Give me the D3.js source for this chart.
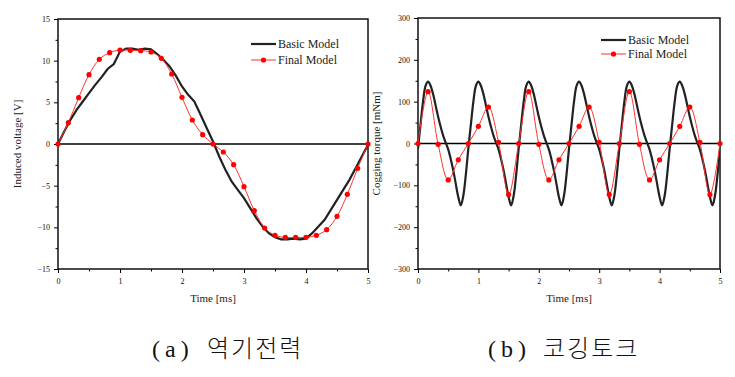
<!DOCTYPE html>
<html>
<head>
<meta charset="utf-8">
<script src="https://cdn.jsdelivr.net/npm/d3@7"></script>
<style>
  body { margin: 0; background: #fff; }
</style>
</head>
<body>
<div id="chart"></div>
<script>
// (a) induced voltage, basic model sampled every 0.1 ms
var voltBasicT = d3.range(0, 51).map(function(i) { return i / 10; });
var voltBasic = [0, 1.5, 2.9, 4.1, 5.1, 6.1, 7.1, 8.0, 9.0, 9.6, 11.1,
    11.44, 11.44, 11.3, 11.44, 11.36, 10.8, 10.1, 9.3, 8.2, 6.9,
    5.9, 5.1, 3.5, 1.9, 0.3, -1.5, -3.1, -4.5, -5.5, -6.5,
    -7.7, -8.9, -9.9, -10.7, -11.2, -11.44, -11.44, -11.36, -11.44, -11.36,
    -10.7, -9.9, -9.1, -7.9, -6.7, -5.5, -4.3, -2.9, -1.5, -0.1];
// final model markers every 1/6 ms
var markT = d3.range(0, 31).map(function(i) { return i / 6; });
var voltFinal = [0, 2.56, 5.56, 8.32, 10.16, 10.96, 11.28, 11.24, 11.2, 11.04, 10.28,
    8.4, 5.6, 2.88, 1.12, 0, -0.96, -2.48, -5.12, -8.0, -10.08,
    -10.96, -11.2, -11.2, -11.2, -10.96, -10.28, -8.68, -6.04, -2.92, 0];

// (b) cogging torque, basic model sampled every 1/24 ms
var torqueBasicT = d3.range(0, 121).map(function(i) { return i / 24; });
var torqueBasic = [-12, 45, 100, 138,
    148, 138, 118, 91, 64, 40, 19, 2, -14, -37, -64, -96, -128, -148, -125, -75, -12, 45, 100, 138,
    148, 138, 118, 91, 64, 40, 19, 2, -14, -37, -64, -96, -128, -148, -125, -75, -12, 45, 100, 138,
    148, 138, 118, 91, 64, 40, 19, 2, -14, -37, -64, -96, -128, -148, -125, -75, -12, 45, 100, 138,
    148, 138, 118, 91, 64, 40, 19, 2, -14, -37, -64, -96, -128, -148, -125, -75, -12, 45, 100, 138,
    148, 138, 118, 91, 64, 40, 19, 2, -14, -37, -64, -96, -128, -148, -125, -75, -12, 45, 100, 138,
    148, 138, 118, 91, 64, 40, 19, 2, -14, -37, -64, -96, -128, -148, -125, -75, -12];
var torqueFinal = [0, 124, -2, -87, -39, 0, 41, 87, 3, -122,
    0, 124, -2, -87, -39, 0, 41, 87, 3, -122,
    0, 124, -2, -87, -39, 0, 41, 87, 3, -122, 0];

var xTicks = [0, 1, 2, 3, 4, 5];
var voltTicks = [-15, -10, -5, 0, 5, 10, 15];
var torqueTicks = [-300, -200, -100, 0, 100, 200, 300];
var legendNames = ['Basic Model', 'Final Model'];

var serif = "'Liberation Serif', 'Times New Roman', serif";

var svg = d3.select('#chart')
    .append('svg')
    .attr('width', 735)
    .attr('height', 377);

function panel(p) {
    var x = d3.scaleLinear().domain([0, 5]).range([p.left, p.right]);
    var y = d3.scaleLinear().domain(p.yDomain).range([p.bottom, p.top]);
    var g = svg.append('g');

    // minor ticks
    g.append('g')
        .attr('transform', 'translate(0,' + p.bottom + ')')
        .call(d3.axisBottom(x).tickValues(d3.range(0.5, 5, 1)).tickSize(2.5).tickFormat(''));
    g.append('g')
        .attr('transform', 'translate(' + p.left + ',0)')
        .call(d3.axisLeft(y).tickValues(p.yMinor).tickSize(2.5).tickFormat(''));

    // major ticks
    g.append('g')
        .attr('transform', 'translate(0,' + p.bottom + ')')
        .call(d3.axisBottom(x).tickValues(xTicks).tickSize(4).tickPadding(5).tickFormat(d3.format('d')));
    g.append('g')
        .attr('transform', 'translate(' + p.left + ',0)')
        .call(d3.axisLeft(y).tickValues(p.yTicks).tickSize(4).tickPadding(4).tickFormat(d3.format('d')));

    g.selectAll('.domain').remove();
    g.selectAll('.tick line').attr('stroke', '#000').attr('stroke-width', 1);
    g.selectAll('.tick text')
        .style('font-family', serif)
        .style('font-size', '8px')
        .attr('fill', '#111');

    // frame
    g.append('rect')
        .attr('x', p.left)
        .attr('y', p.top)
        .attr('width', p.right - p.left)
        .attr('height', p.bottom - p.top)
        .attr('fill', 'none')
        .attr('stroke', '#111')
        .attr('stroke-width', 1.5);

    // zero line
    g.append('line')
        .attr('x1', p.left).attr('x2', p.right)
        .attr('y1', y(0)).attr('y2', y(0))
        .attr('stroke', '#000')
        .attr('stroke-width', 1.5);

    var clipId = 'clip' + p.id;
    svg.append('clipPath').attr('id', clipId)
        .append('rect')
        .attr('x', p.left).attr('y', p.top)
        .attr('width', p.right - p.left).attr('height', p.bottom - p.top);

    var plot = g.append('g').attr('clip-path', 'url(#' + clipId + ')');

    var basicLine = d3.line()
        .x(function(d, i) { return x(p.basicT[i]); })
        .y(function(d) { return y(d); })
        .curve(p.basicCurve);
    plot.append('path')
        .datum(p.basic)
        .attr('d', basicLine)
        .attr('fill', 'none')
        .attr('stroke', '#222')
        .attr('stroke-width', 2.2);

    var finalLine = d3.line()
        .x(function(d, i) { return x(markT[i]); })
        .y(function(d) { return y(d); })
        .curve(d3.curveCatmullRom);
    plot.append('path')
        .datum(p.final)
        .attr('d', finalLine)
        .attr('fill', 'none')
        .attr('stroke', '#ff3030')
        .attr('stroke-width', 1);
    g.selectAll('.mark' + p.id)
        .data(p.final)
        .enter()
        .append('circle')
        .attr('cx', function(d, i) { return x(markT[i]); })
        .attr('cy', function(d) { return y(d); })
        .attr('r', 2.6)
        .attr('fill', '#ff0000');

    // axis titles
    g.append('text')
        .attr('x', (p.left + p.right) / 2)
        .attr('y', 302)
        .attr('text-anchor', 'middle')
        .style('font-family', serif)
        .style('font-size', '11px')
        .attr('fill', '#222')
        .text('Time [ms]');
    g.append('text')
        .attr('transform', 'translate(' + p.yTitleX + ',' + ((p.top + p.bottom) / 2) + ') rotate(-90)')
        .attr('text-anchor', 'middle')
        .style('font-family', serif)
        .style('font-size', '11px')
        .attr('fill', '#222')
        .text(p.yTitle);

    // legend
    legendNames.forEach(function(name, i) {
        var ly = p.legendY + i * p.legendGap;
        g.append('line')
            .attr('x1', p.legendX).attr('x2', p.legendX + 25)
            .attr('y1', ly).attr('y2', ly)
            .attr('stroke', i === 0 ? '#222' : '#ff3030')
            .attr('stroke-width', i === 0 ? 2.2 : 1);
        if (i === 1) {
            g.append('circle')
                .attr('cx', p.legendX + 12.5).attr('cy', ly)
                .attr('r', 2.6).attr('fill', '#ff0000');
        }
        g.append('text')
            .attr('x', p.legendX + 27)
            .attr('y', ly + 4)
            .style('font-family', serif)
            .style('font-size', '12px')
            .attr('fill', '#222')
            .text(name);
    });

    // caption
    g.append('text')
        .attr('x', p.capX)
        .attr('y', 357)
        .style('font-family', serif)
        .style('font-size', '24px')
        .style('letter-spacing', '5px')
        .attr('fill', '#111')
        .text(p.capLetter);
    g.append('text')
        .attr('x', p.capX + 55)
        .attr('y', 357)
        .style('font-family', "'Noto Sans CJK KR', sans-serif")
        .style('font-weight', 300)
        .style('font-size', '24px')
        .style('letter-spacing', '2px')
        .attr('fill', '#111')
        .text(p.capText);
}

panel({
    id: 'a', left: 58, right: 368, top: 19, bottom: 269,
    yDomain: [-15, 15], yTicks: voltTicks, yMinor: d3.range(-12.5, 15, 5),
    basicT: voltBasicT, basic: voltBasic, basicCurve: d3.curveLinear, final: voltFinal,
    yTitle: 'Induced voltage [V]', yTitleX: 21,
    legendX: 251, legendY: 44, legendGap: 16,
    capX: 152, capLetter: '(a)', capText: '역기전력'
});

panel({
    id: 'b', left: 418, right: 720, top: 18, bottom: 269,
    yDomain: [-300, 300], yTicks: torqueTicks, yMinor: d3.range(-250, 300, 100),
    basicT: torqueBasicT, basic: torqueBasic, basicCurve: d3.curveCatmullRom, final: torqueFinal,
    yTitle: 'Cogging torque [mNm]', yTitleX: 380,
    legendX: 601, legendY: 40, legendGap: 14,
    capX: 488, capLetter: '(b)', capText: '코깅토크'
});
</script>
</body>
</html>
